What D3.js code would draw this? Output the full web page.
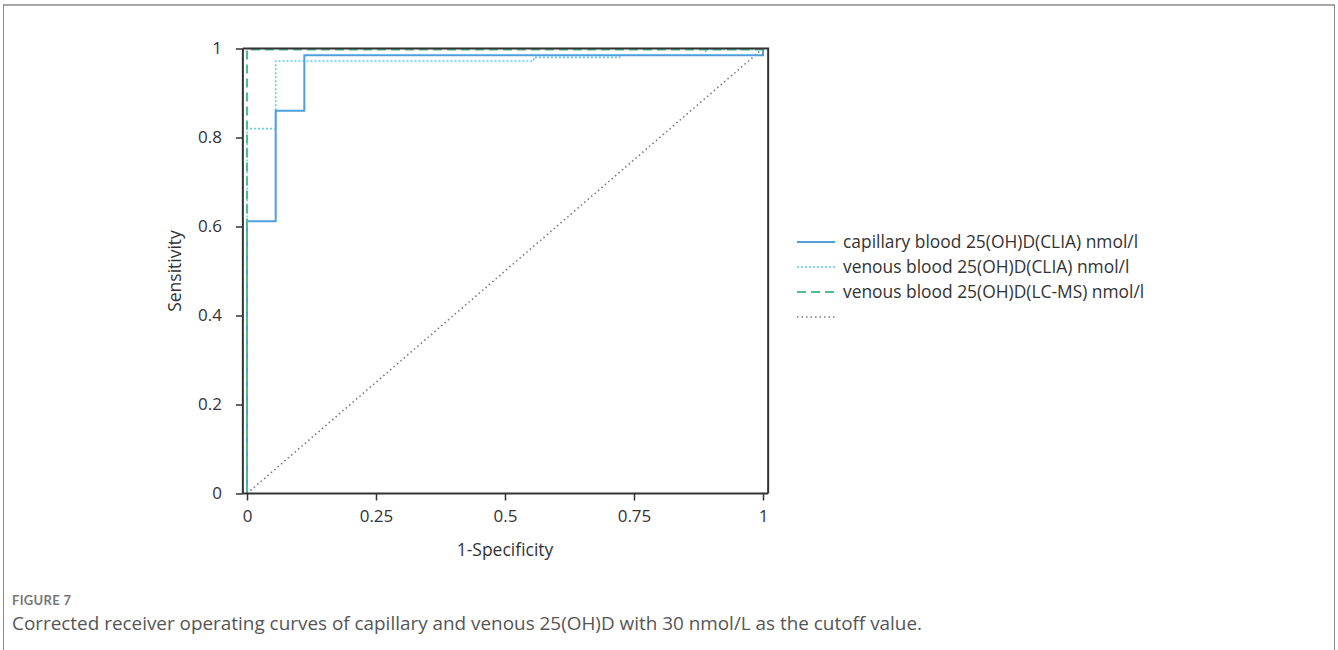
<!DOCTYPE html>
<html>
<head>
<meta charset="utf-8">
<script src="https://cdn.jsdelivr.net/npm/d3@7"></script>
<style>
  html, body { margin: 0; padding: 0; background: #fff; }
  svg { display: block; }
</style>
</head>
<body>
<svg id="chart" width="1338" height="650"></svg>
<script>
// ---- data ----
const seriesNames = [
  "capillary blood 25(OH)D(CLIA) nmol/l",
  "venous blood 25(OH)D(CLIA) nmol/l",
  "venous blood 25(OH)D(LC-MS) nmol/l",
  ""
];
const capillaryFPR = [0, 0, 0.0556, 0.0556, 0.1111, 0.1111, 1, 1];
const capillaryTPR = [0, 0.612, 0.612, 0.86, 0.86, 0.985, 0.985, 1];
const venousCliaFPR = [0, 0, 0.0556, 0.0556, 0.5556, 0.5556, 0.7222, 0.7222, 0.8889, 0.8889, 1];
const venousCliaTPR = [0, 0.82, 0.82, 0.972, 0.972, 0.98, 0.98, 0.985, 0.985, 0.998, 0.998];
const venousLcmsFPR = [0, 0, 1];
const venousLcmsTPR = [0, 0.998, 0.998];
const referenceFPR = [0, 1];
const referenceTPR = [0, 1];
const xTicks = [0, 0.25, 0.5, 0.75, 1];
const yTicks = [0, 0.2, 0.4, 0.6, 0.8, 1];
const xTitle = "1-Specificity";
const yTitle = "Sensitivity";
const figureLabel = "FIGURE 7";
const captionText = "Corrected receiver operating curves of capillary and venous 25(OH)D with 30 nmol/L as the cutoff value.";

// ---- layout ----
const svg = d3.select("#chart");
const chartFont = "'Open Sans', 'Noto Sans', sans-serif";
const x = d3.scaleLinear().domain([0, 1]).range([247, 763]);
const y = d3.scaleLinear().domain([0, 1]).range([493.5, 48.5]);
const xMinFrame = -0.008, xMaxFrame = 1.01;

// outer figure border
svg.append("line").attr("x1", 3).attr("x2", 1335).attr("y1", 5).attr("y2", 5)
  .attr("stroke", "#8a8a8a").attr("stroke-width", 1.5);
svg.append("line").attr("x1", 3.5).attr("x2", 3.5).attr("y1", 5).attr("y2", 650)
  .attr("stroke", "#8a8a8a").attr("stroke-width", 1);
svg.append("line").attr("x1", 1334.5).attr("x2", 1334.5).attr("y1", 5).attr("y2", 650)
  .attr("stroke", "#8a8a8a").attr("stroke-width", 1);

// series
const series = [
  { name: seriesNames[0], fx: capillaryFPR, ty: capillaryTPR, color: "#4f9fdc", dash: null, width: 2 },
  { name: seriesNames[1], fx: venousCliaFPR, ty: venousCliaTPR, color: "#62cde0", dash: "2,2", width: 1.6 },
  { name: seriesNames[2], fx: venousLcmsFPR, ty: venousLcmsTPR, color: "#4dbf8f", dash: "9,5", width: 2 },
  { name: seriesNames[3], fx: referenceFPR, ty: referenceTPR, color: "#7a7a7a", dash: "1.5,3", width: 1.6 }
];

const line = d3.line().x(d => x(d[0])).y(d => y(d[1]));

// draw reference diagonal first, then curves
const drawOrder = [3, 1, 0, 2];
drawOrder.forEach(i => {
  const s = series[i];
  const pts = s.fx.map((v, k) => [v, s.ty[k]]);
  svg.append("path")
    .attr("d", line(pts))
    .attr("fill", "none")
    .attr("stroke", s.color)
    .attr("stroke-width", s.width)
    .attr("stroke-dasharray", s.dash);
});

// frame (top and right)
svg.append("path")
  .attr("d", `M${x(xMinFrame)},${y(1)}H${x(xMaxFrame)}V${y(0)}`)
  .attr("fill", "none").attr("stroke", "#333").attr("stroke-width", 2);

// axes
const xAxis = d3.axisBottom(x).tickValues(xTicks).tickFormat(d3.format("")).tickSize(7).tickPadding(9);
const gx = svg.append("g").attr("transform", `translate(0,${y(0)})`).call(xAxis);
gx.select(".domain").attr("d", `M${x(xMinFrame)},0H${x(xMaxFrame)}`).attr("stroke", "#333").attr("stroke-width", 2);
gx.selectAll(".tick line").attr("stroke", "#333").attr("stroke-width", 1.5);
gx.selectAll(".tick text").attr("font-family", chartFont).attr("font-size", 17).attr("fill", "#333");

const yAxis = d3.axisLeft(y).tickValues(yTicks).tickFormat(d3.format("")).tickSize(7).tickPadding(14);
const gy = svg.append("g").attr("transform", `translate(${x(xMinFrame)},0)`).call(yAxis);
gy.select(".domain").attr("d", `M0,${y(1)}V${y(0)}`).attr("stroke", "#333").attr("stroke-width", 2);
gy.selectAll(".tick line").attr("stroke", "#333").attr("stroke-width", 1.5);
gy.selectAll(".tick text").attr("font-family", chartFont).attr("font-size", 17).attr("fill", "#333");

// axis titles
svg.append("text").attr("x", (x(0) + x(1)) / 2).attr("y", 556)
  .attr("text-anchor", "middle").attr("font-family", chartFont).attr("font-size", 17.5).attr("fill", "#333")
  .text(xTitle);
svg.append("text").attr("transform", `translate(181,${(y(0) + y(1)) / 2}) rotate(-90)`)
  .attr("text-anchor", "middle").attr("font-family", chartFont).attr("font-size", 17.5).attr("fill", "#333")
  .text(yTitle);

// legend
const legend = svg.append("g").attr("transform", "translate(797,242)");
series.forEach((s, i) => {
  const g = legend.append("g").attr("transform", `translate(0,${i * 25})`);
  g.append("line").attr("x1", 0).attr("x2", 38).attr("y1", 0).attr("y2", 0)
    .attr("stroke", s.color).attr("stroke-width", s.width).attr("stroke-dasharray", s.dash);
  g.append("text").attr("x", 46).attr("y", 6)
    .attr("font-family", chartFont).attr("font-size", 17.4).attr("fill", "#333")
    .text(s.name);
});

// caption
svg.append("text").attr("x", 12).attr("y", 605)
  .attr("font-family", "Lato, 'Open Sans', sans-serif").attr("font-size", 13).attr("font-weight", 700)
  .attr("fill", "#777").attr("letter-spacing", 0.3).text(figureLabel);
svg.append("text").attr("x", 12).attr("y", 630)
  .attr("font-family", "'Open Sans', Lato, sans-serif").attr("font-size", 18.9)
  .attr("fill", "#555").text(captionText);
</script>
</body>
</html>
